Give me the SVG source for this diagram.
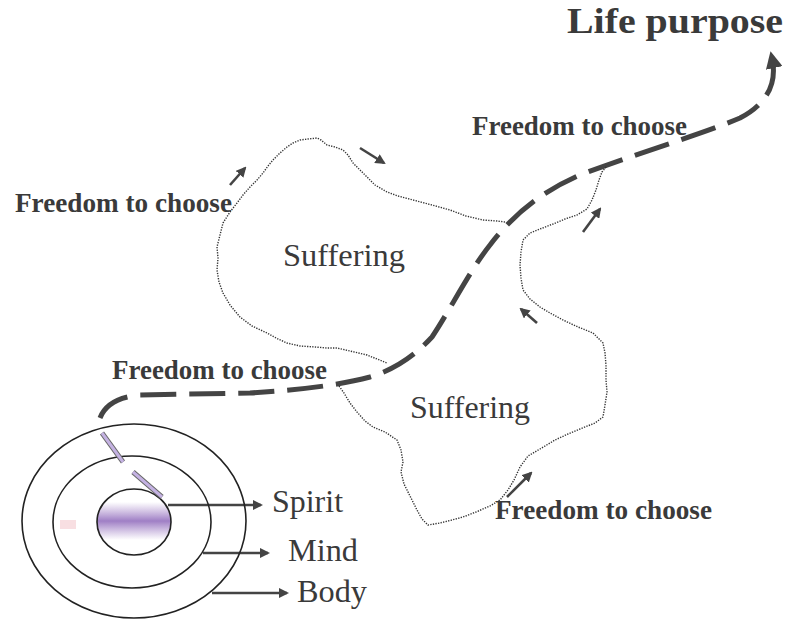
<svg xmlns="http://www.w3.org/2000/svg" width="802" height="621" viewBox="0 0 802 621">
<defs>
<style>
text{font-family:'Liberation Serif','Times New Roman',serif}
.lbl{font-weight:bold;font-size:27px;fill:#3a3a3a}
.reg{font-size:32px;fill:#3a3a3a}
.dot{fill:none;stroke:#333;stroke-width:1.4;stroke-dasharray:1.3 1.3;stroke-linejoin:round}
.arr{fill:none;stroke:#444;stroke-width:2.6;marker-end:url(#ah)}
.ring{fill:none;stroke:#222;stroke-width:1.6}
.path{fill:none;stroke:#444;stroke-width:5;stroke-dasharray:36 13;marker-end:url(#big)}
</style>
<marker id="ah" viewBox="0 0 10 10" refX="8" refY="5" markerWidth="4" markerHeight="4" orient="auto" markerUnits="strokeWidth">
<path d="M0,0 L10,5 L0,10 Z" fill="#444"/>
</marker>
<marker id="big" viewBox="0 0 10 10" refX="6" refY="5" markerWidth="3.4" markerHeight="3.4" orient="auto" markerUnits="strokeWidth">
<path d="M0,0 L10,5 L0,10 Z" fill="#444"/>
</marker>
<linearGradient id="pg" x1="0" y1="0" x2="0" y2="1">
<stop offset="0" stop-color="#a585c8" stop-opacity="0"/>
<stop offset="0.5" stop-color="#9a78c2" stop-opacity="0.95"/>
<stop offset="1" stop-color="#a585c8" stop-opacity="0"/>
</linearGradient>
<clipPath id="innerClip"><ellipse cx="134" cy="522" rx="37" ry="33"/></clipPath>
</defs>
<rect width="802" height="621" fill="#fff"/>

<g id="connectors">
<path class="path" d="M100,418 C105,405 118,397 140,395 L250,393 C300,390 340,385 370,377 C400,368 420,350 432,337 C450,310 470,270 490,245 C515,212 545,190 580,175 C640,152 700,135 740,118 C765,105 778,85 772,58"/>
<line class="arr" x1="230" y1="185" x2="245" y2="168"/>
<line class="arr" x1="360" y1="148" x2="384" y2="163"/>
<line class="arr" x1="583" y1="232" x2="600" y2="209"/>
<line class="arr" x1="537" y1="323" x2="521" y2="309"/>
<line class="arr" x1="507" y1="497" x2="531" y2="473"/>
<line class="arr" x1="168" y1="505" x2="261" y2="505"/>
<line class="arr" x1="203" y1="553" x2="268" y2="553"/>
<line class="arr" x1="212" y1="593" x2="287" y2="593"/>
</g>

<g id="suffering1">
<path class="dot" d="M505,222 L497,221 L483,220 L466,216 L450,210 L432,205 L413,200 L398,196 L387,192 L375,185 L363,173 L356,166 L353,163 L348,155 L343,150 L335,147 L327,145 L321,140 L317,138 L308,139 L300,140 L293,143 L287,147 L280,153 L273,160 L268,166 L263,173 L257,180 L250,187 L243,195 L237,203 L230,212 L223,223 L220,235 L217,247 L218,258 L217,270 L219,282 L223,293 L230,305 L240,317 L252,326 L267,333 L278,339 L287,343 L300,346 L315,347 L327,348 L337,348 L350,351 L367,355 L377,359 L387,363"/>
<text class="reg" x="283" y="266" textLength="122" lengthAdjust="spacingAndGlyphs">Suffering</text>
</g>

<g id="suffering2">
<path class="dot" d="M339,386 L344,393 L350,403 L357,412 L365,421 L373,427 L385,432 L397,440 L401,450 L403,462 L401,472 L404,484 L410,496 L417,510 L422,519 L428,525 L440,523 L452,520 L463,517 L476,512 L490,506 L500,500 L508,490 L514,480 L520,467 L528,456 L540,449 L555,440 L568,434 L580,429 L595,423 L603,417 L605,405 L607,392 L606,380 L606,365 L605,353 L603,343 L593,333 L578,327 L563,320 L550,313 L540,307 L530,299 L523,290 L521,278 L520,265 L521,252 L523,240 L530,233 L540,229 L553,224 L565,219 L577,215 L587,209 L592,200 L596,190 L599,180 L602,172 L606,167"/>
<text class="reg" x="410" y="418" textLength="120" lengthAdjust="spacingAndGlyphs">Suffering</text>
</g>

<g id="self">
<rect x="60" y="520" width="16" height="9" fill="#f3c9cf" opacity="0.6"/>
<rect x="96" y="502" width="76" height="38" fill="url(#pg)" clip-path="url(#innerClip)"/>
<ellipse class="ring" cx="134" cy="521" rx="112" ry="97"/>
<ellipse class="ring" cx="132" cy="522" rx="79" ry="66"/>
<ellipse class="ring" cx="134" cy="522" rx="37" ry="33"/>
<line x1="102" y1="433" x2="123" y2="462" stroke="#666" stroke-width="5"/>
<line x1="102" y1="433" x2="123" y2="462" stroke="#c4b2e2" stroke-width="3"/>
<line x1="133" y1="472" x2="162" y2="497" stroke="#666" stroke-width="5"/>
<line x1="133" y1="472" x2="162" y2="497" stroke="#c4b2e2" stroke-width="3"/>
<text class="reg" x="272" y="512" textLength="71" lengthAdjust="spacingAndGlyphs">Spirit</text>
<text class="reg" x="288" y="561" textLength="70" lengthAdjust="spacingAndGlyphs">Mind</text>
<text class="reg" x="297" y="602" textLength="70" lengthAdjust="spacingAndGlyphs">Body</text>
</g>

<g id="labels">
<text class="lbl" x="15" y="212" textLength="217" lengthAdjust="spacingAndGlyphs">Freedom to choose</text>
<text class="lbl" x="112" y="379" textLength="215" lengthAdjust="spacingAndGlyphs">Freedom to choose</text>
<text class="lbl" x="472" y="135" textLength="215" lengthAdjust="spacingAndGlyphs">Freedom to choose</text>
<text class="lbl" x="495" y="519" textLength="217" lengthAdjust="spacingAndGlyphs">Freedom to choose</text>
<text class="lbl" x="567" y="33" style="font-size:35px" textLength="216" lengthAdjust="spacingAndGlyphs">Life purpose</text>
</g>
</svg>
